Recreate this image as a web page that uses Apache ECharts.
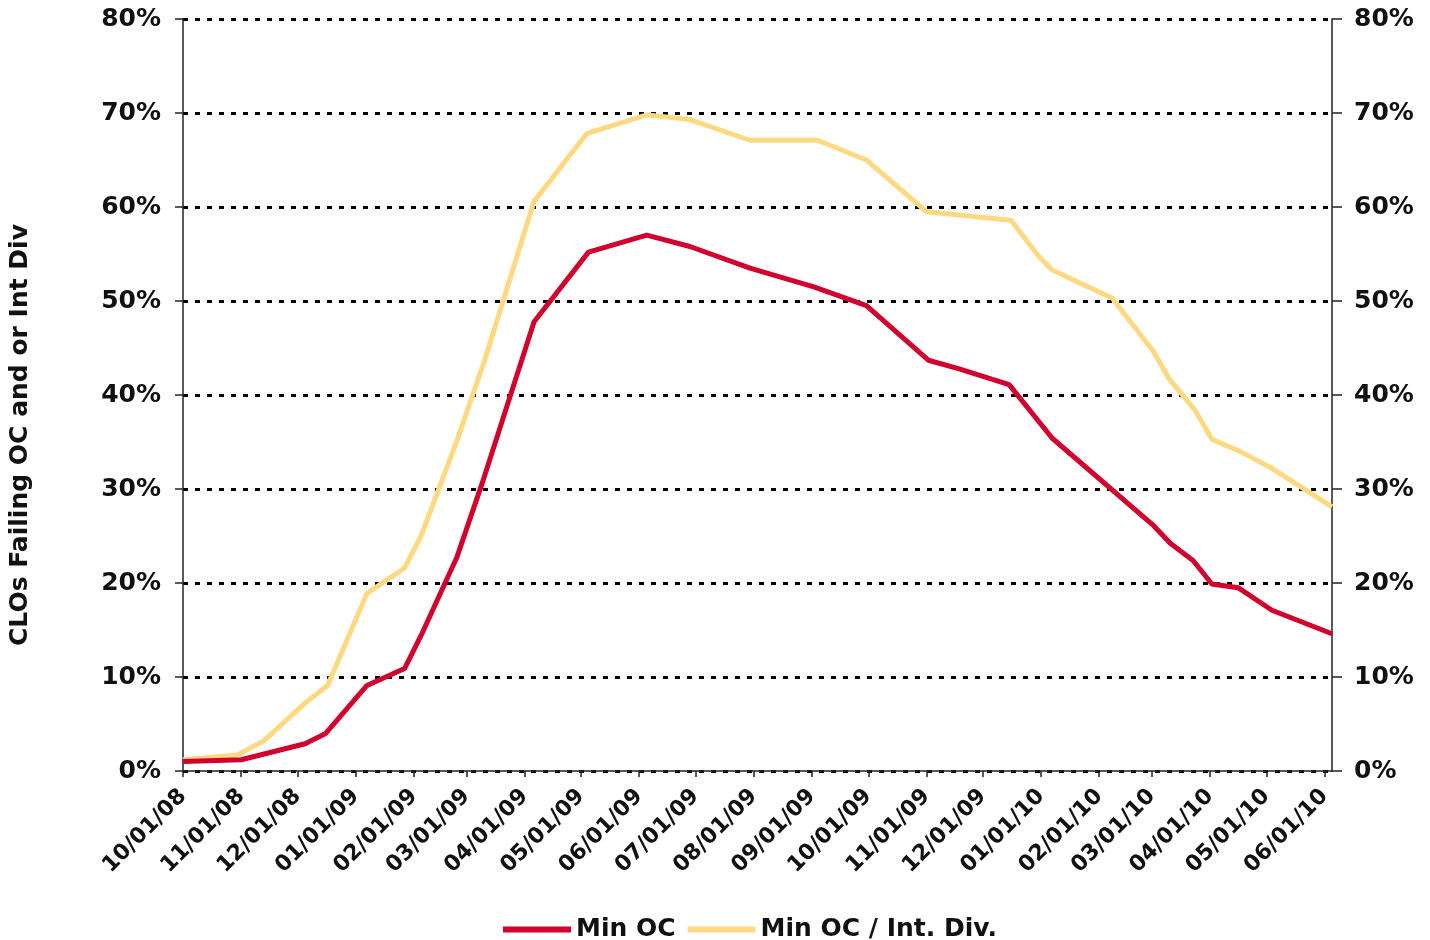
<!DOCTYPE html>
<html>
<head>
<meta charset="utf-8">
<script src="https://cdn.jsdelivr.net/npm/echarts@6/dist/echarts.min.js"></script>
<style>
  html, body { margin: 0; padding: 0; background: #fff; }
  #chart { width: 1430px; height: 940px; }
</style>
</head>
<body>
<div id="chart"></div>
<script>
// Min OC
var ocDates = ['2008-10-01', '2008-11-01', '2008-12-05', '2008-12-16', '2009-01-07', '2009-01-27', '2009-02-05',
  '2009-02-24', '2009-03-10', '2009-04-06', '2009-05-05', '2009-06-05', '2009-06-28', '2009-07-30', '2009-09-02',
  '2009-09-30', '2009-11-02', '2009-11-18', '2009-12-15', '2010-01-07', '2010-03-02', '2010-03-11', '2010-03-23',
  '2010-04-02', '2010-04-16', '2010-05-04', '2010-06-05'];
var ocValues = [1.0, 1.2, 2.9, 4.0, 9.1, 10.9, 14.5,
  22.8, 31.0, 47.8, 55.2, 57.0, 55.8, 53.5, 51.5,
  49.5, 43.7, 42.8, 41.1, 35.4, 26.1, 24.2, 22.4,
  19.9, 19.5, 17.1, 14.6];

// Min OC / Int. Div.
var divDates = ['2008-10-01', '2008-10-30', '2008-11-13', '2008-12-06', '2008-12-17', '2009-01-07', '2009-01-27',
  '2009-02-05', '2009-02-24', '2009-03-11', '2009-04-06', '2009-05-04', '2009-06-05', '2009-06-28', '2009-07-30',
  '2009-09-04', '2009-09-30', '2009-11-01', '2009-12-16', '2009-12-31', '2010-01-07', '2010-02-08', '2010-03-02',
  '2010-03-10', '2010-03-24', '2010-04-02', '2010-04-17', '2010-05-04', '2010-06-05'];
var divValues = [1.2, 1.7, 3.2, 7.4, 9.1, 18.9, 21.6,
  25.1, 35.2, 43.9, 60.6, 67.8, 69.8, 69.3, 67.1,
  67.1, 65.0, 59.5, 58.6, 54.7, 53.3, 50.3, 44.6,
  41.8, 38.4, 35.3, 34.0, 32.2, 28.1];

// monthly tick labels
var tickMonths = ['2008-10', '2008-11', '2008-12', '2009-01', '2009-02', '2009-03', '2009-04', '2009-05',
  '2009-06', '2009-07', '2009-08', '2009-09', '2009-10', '2009-11', '2009-12', '2010-01', '2010-02',
  '2010-03', '2010-04', '2010-05', '2010-06'];

var seriesNames = ['Min OC', 'Min OC / Int. Div.'];
var colors = ['#D2002D', '#FFD982'];

// dates -> day number (UTC based, so months keep their real length)
function toDay(s) {
  var p = s.split('-');
  return Date.UTC(+p[0], +p[1] - 1, p[2] ? +p[2] : 1) / 86400000;
}
function pad(n) { return (n < 10 ? '0' : '') + n; }

var tickValues = tickMonths.map(toDay);
var font = 'DejaVu Sans';

var chart = echarts.init(document.getElementById('chart'));
var option = {
  animation: false,
  textStyle: { fontFamily: font },
  grid: { left: 183, right: 98, top: 19, bottom: 169, outerBoundsMode: 'none' },
  legend: {
    top: 912,
    left: 498,
    itemWidth: 68,
    itemHeight: 6,
    itemGap: 12,
    icon: 'rect',
    textStyle: { fontFamily: font, fontWeight: 'bold', fontSize: 25, color: '#111' },
    data: seriesNames
  },
  xAxis: {
    type: 'value',
    min: toDay('2008-10-01'),
    max: toDay('2010-06-05'),
    axisLine: { lineStyle: { color: '#222', width: 1.5 } },
    axisTick: { show: true, length: 6, customValues: tickValues, lineStyle: { color: '#222', width: 1.5 } },
    axisLabel: {
      customValues: tickValues,
      rotate: 45,
      margin: 22,
      fontFamily: font,
      fontWeight: 'bold',
      fontSize: 22,
      color: '#111',
      formatter: function (v) {
        var d = new Date(Math.round(v) * 86400000);
        return pad(d.getUTCMonth() + 1) + '/' + pad(d.getUTCDate()) + '/' + pad(d.getUTCFullYear() % 100);
      }
    },
    splitLine: { show: false }
  },
  yAxis: [
    {
      type: 'value',
      min: 0,
      max: 80,
      interval: 10,
      name: 'CLOs Failing OC and or Int Div',
      nameLocation: 'middle',
      nameGap: 150,
      nameTextStyle: { fontFamily: font, fontWeight: 'bold', fontSize: 25, color: '#111', padding: [0, 80, 0, 0] },
      axisLine: { show: true, lineStyle: { color: '#222', width: 1.5 } },
      axisTick: { show: true, length: 8, lineStyle: { color: '#222', width: 1.5 } },
      axisLabel: { margin: 22, fontFamily: font, fontWeight: 'bold', fontSize: 25, color: '#111', formatter: '{value}%' },
      splitLine: { show: true, lineStyle: { color: '#000', width: 3, type: [5, 7] } }
    },
    {
      type: 'value',
      position: 'right',
      min: 0,
      max: 80,
      interval: 10,
      axisLine: { show: true, lineStyle: { color: '#222', width: 1.5 } },
      axisTick: { show: true, length: 10, lineStyle: { color: '#222', width: 1.5 } },
      axisLabel: { margin: 22, fontFamily: font, fontWeight: 'bold', fontSize: 25, color: '#111', formatter: '{value}%' },
      splitLine: { show: false }
    }
  ],
  series: [
    {
      name: seriesNames[0],
      type: 'line',
      showSymbol: false,
      color: colors[0],
      lineStyle: { width: 5, color: colors[0] },
      z: 3,
      data: ocDates.map(function (d, i) { return [toDay(d), ocValues[i]]; })
    },
    {
      name: seriesNames[1],
      type: 'line',
      showSymbol: false,
      color: colors[1],
      lineStyle: { width: 5, color: colors[1] },
      z: 2,
      data: divDates.map(function (d, i) { return [toDay(d), divValues[i]]; })
    }
  ]
};
chart.setOption(option);
</script>
</body>
</html>
